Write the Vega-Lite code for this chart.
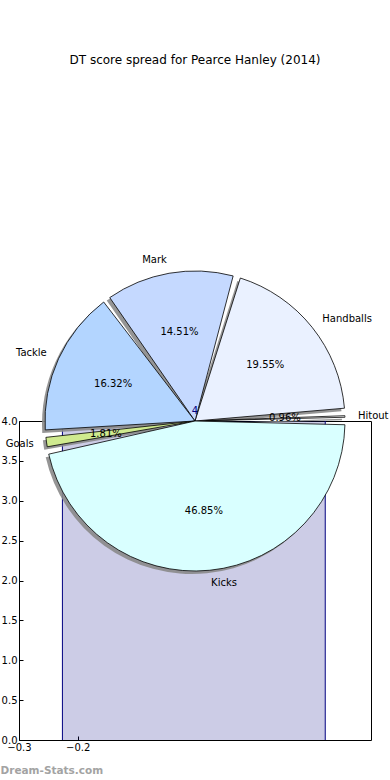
{
  "$schema": "https://vega.github.io/schema/vega-lite/v6.json",
  "width": 352,
  "height": 319,
  "autosize": {"type": "none"},
  "padding": {"left": 19, "top": 421, "right": 19, "bottom": 40},
  "background": "white",
  "title": {"text": "DT score spread for Pearce Hanley (2014)", "fontSize": 12, "fontWeight": "normal", "font": "DejaVu Sans", "color": "black", "anchor": "middle", "frame": "group", "offset": 188},
  "config": {
    "font": "DejaVu Sans",
    "view": {"stroke": "black", "strokeWidth": 1},
    "axis": {"domain": false, "grid": false, "tickColor": "black", "tickSize": -4, "labelPadding": 6, "labelFontSize": 10, "labelColor": "black", "labelFont": "DejaVu Sans", "labelOverlap": false, "labelFlush": false, "labelBound": false}
  },
  "datasets": {
    "pie": [
      {"part": "Hitout", "share": 0.0096, "k": 1},
      {"part": "Handballs", "share": 0.1955, "k": 2},
      {"part": "Mark", "share": 0.1451, "k": 3},
      {"part": "Tackle", "share": 0.1632, "k": 4},
      {"part": "Goals", "share": 0.0181, "k": 5},
      {"part": "Kicks", "share": 0.4685, "k": 6}
    ],
    "band": [{"x_from": -0.226, "x_to": 0.222, "top": 4}]
  },
  "layer": [
    {
      "data": {"name": "band"},
      "mark": {"type": "rect", "fill": "navy", "fillOpacity": 0.2, "strokeWidth": 0},
      "encoding": {
        "x": {"field": "x_from", "type": "quantitative", "scale": {"domain": [-0.3, 0.3], "nice": false, "zero": false},
          "axis": {"values": [-0.3, -0.2], "format": ".1f", "title": "Dream-Stats.com", "titleX": -19, "titleY": 30, "titleAlign": "left", "titleBaseline": "middle", "titleFontSize": 10.5, "titleFontWeight": "bold", "titleColor": "#a3a3a3", "labelPadding": 6}},
        "x2": {"field": "x_to"},
        "y": {"field": "top", "type": "quantitative", "scale": {"domain": [0, 4], "nice": false},
          "axis": {"values": [0, 0.5, 1, 1.5, 2, 2.5, 3, 3.5, 4], "tickCount": 9, "labelOverlap": false, "format": ".1f", "title": null}},
        "y2": {"datum": 0}
      }
    },
    {
      "data": {"name": "band"},
      "mark": {"type": "rule", "color": "navy", "strokeWidth": 1},
      "encoding": {
        "x": {"field": "x_from", "type": "quantitative"},
        "y": {"field": "top", "type": "quantitative", "axis": {"values": [0, 0.5, 1, 1.5, 2, 2.5, 3, 3.5, 4], "tickCount": 9, "labelOverlap": false, "format": ".1f", "title": null}},
        "y2": {"datum": 0}
      }
    },
    {
      "data": {"name": "band"},
      "mark": {"type": "rule", "color": "navy", "strokeWidth": 1},
      "encoding": {
        "x": {"field": "x_to", "type": "quantitative"},
        "y": {"field": "top", "type": "quantitative", "axis": {"values": [0, 0.5, 1, 1.5, 2, 2.5, 3, 3.5, 4], "tickCount": 9, "labelOverlap": false, "format": ".1f", "title": null}},
        "y2": {"datum": 0}
      }
    },
    {
      "data": {"name": "pie"},
      "mark": {"type": "arc", "outerRadius": 150, "padAngle": 0.05, "fill": "#8a8a8a", "fillOpacity": 0.9, "x": {"expr": "scale('x', 0)"}, "y": {"expr": "scale('y', 4)"}, "xOffset": -3, "yOffset": 3},
      "encoding": {
        "theta": {"field": "share", "type": "quantitative", "stack": true, "scale": {"domain": [0, 1], "range": [1.5708, -4.7124]}},
        "order": {"field": "k", "type": "quantitative"}
      }
    },
    {
      "data": {"name": "pie"},
      "mark": {"type": "arc", "outerRadius": 150, "padAngle": 0.05, "stroke": "black", "strokeWidth": 0.8, "x": {"expr": "scale('x', 0)"}, "y": {"expr": "scale('y', 4)"}},
      "encoding": {
        "theta": {"field": "share", "type": "quantitative", "stack": true},
        "order": {"field": "k", "type": "quantitative"},
        "fill": {"field": "part", "type": "nominal", "legend": null,
          "scale": {"domain": ["Hitout", "Handballs", "Mark", "Tackle", "Goals", "Kicks"], "range": ["#ffffff", "#eaf1ff", "#c5d9ff", "#b3d5ff", "#cfea8f", "#d9ffff"]}}
      }
    },
    {
      "data": {"name": "pie"},
      "mark": {"type": "text", "radius": 90, "fontSize": 10, "color": "black", "baseline": "middle", "align": "center", "x": {"expr": "scale('x', 0)"}, "y": {"expr": "scale('y', 4)"}},
      "encoding": {
        "theta": {"field": "share", "type": "quantitative", "stack": true},
        "order": {"field": "k", "type": "quantitative"},
        "text": {"field": "share", "type": "quantitative", "format": ".2%"}
      }
    },
    {
      "data": {"name": "pie"},
      "mark": {"type": "text", "radius": 163, "fontSize": 10, "color": "black", "baseline": "middle",
        "align": {"expr": "cos(PI * (datum.share_start + datum.share_end)) > 0 ? 'left' : 'right'"},
        "x": {"expr": "scale('x', 0)"}, "y": {"expr": "scale('y', 4)"}},
      "encoding": {
        "theta": {"field": "share", "type": "quantitative", "stack": true},
        "order": {"field": "k", "type": "quantitative"},
        "text": {"field": "part", "type": "nominal"}
      }
    },
    {
      "data": {"values": [{"note": "4", "nx": 0, "ny": 4}]},
      "mark": {"type": "text", "fontSize": 10, "color": "navy", "align": "center", "baseline": "bottom", "dy": -5},
      "encoding": {
        "x": {"field": "nx", "type": "quantitative"},
        "y": {"field": "ny", "type": "quantitative", "axis": {"values": [0, 0.5, 1, 1.5, 2, 2.5, 3, 3.5, 4], "tickCount": 9, "labelOverlap": false, "format": ".1f", "title": null}},
        "text": {"field": "note", "type": "nominal"}
      }
    }
  ]
}
